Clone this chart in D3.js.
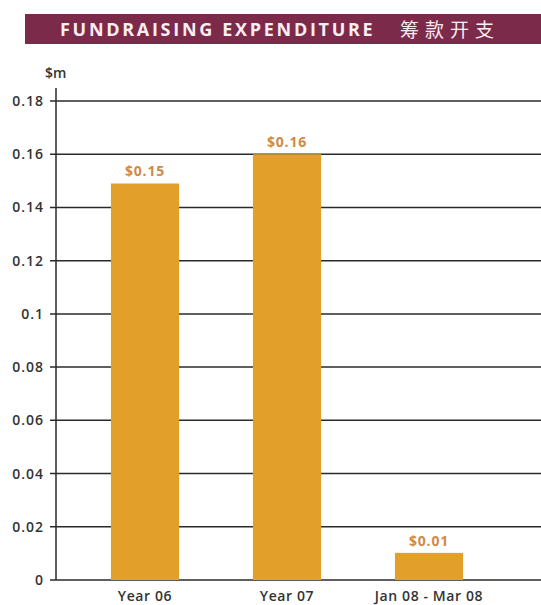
<!DOCTYPE html>
<html><head><meta charset="utf-8">
<script src="https://cdn.jsdelivr.net/npm/d3@7"></script>
<style>body{margin:0;background:#fff;}svg{display:block;font-family:"Open Sans",sans-serif;}</style>
</head><body>
<svg id="c" width="541" height="605"></svg>
<script>
const categories = ["Year 06", "Year 07", "Jan 08 - Mar 08"];
const values = [0.149, 0.16, 0.0102];
const valueLabels = ["$0.15", "$0.16", "$0.01"];
const yTicks = [0, 0.02, 0.04, 0.06, 0.08, 0.1, 0.12, 0.14, 0.16, 0.18];
const yTickLabels = ["0", "0.02", "0.04", "0.06", "0.08", "0.1", "0.12", "0.14", "0.16", "0.18"];

const svg = d3.select("#c");
// title banner
svg.append("rect").attr("x", 25).attr("y", 14).attr("width", 516).attr("height", 30).attr("fill", "#7b2a4a");
svg.append("text").attr("x", 60).attr("y", 36).attr("fill", "#fbeef2")
  .attr("font-size", 18).attr("font-weight", 700).attr("letter-spacing", 2.7)
  .text("FUNDRAISING EXPENDITURE");
svg.append("text").attr("x", 400).attr("y", 37).attr("fill", "#fbeef2")
  .attr("font-family", "Noto Sans CJK SC").attr("font-size", 19).attr("letter-spacing", 6)
  .text("筹款开支");

const x0 = 56, xEnd = 541;
const y = d3.scaleLinear().domain([0, 0.18]).range([580, 101]);
const x = d3.scaleBand().domain(categories).range([74, 500]).paddingInner(0.52).paddingOuter(0.26);

// gridlines
svg.append("g").selectAll("line").data(yTicks).join("line")
  .attr("x1", 50).attr("x2", xEnd).attr("y1", d => y(d)).attr("y2", d => y(d))
  .attr("stroke", "#2a2a2a").attr("stroke-width", 1.5);
// y axis line
svg.append("line").attr("x1", x0).attr("x2", x0).attr("y1", 88).attr("y2", 580)
  .attr("stroke", "#2a2a2a").attr("stroke-width", 1.5);
// tick labels
svg.append("g").selectAll("text").data(yTicks).join("text")
  .attr("x", 44).attr("y", d => y(d) + 5).attr("text-anchor", "end")
  .attr("font-size", 14).attr("font-weight", 600).attr("fill", "#333").attr("letter-spacing", 1)
  .text((d, i) => yTickLabels[i]);
svg.append("text").attr("x", 45).attr("y", 78).attr("font-size", 14).attr("font-weight", 600).attr("fill", "#333").text("$m");

// bars
svg.append("g").selectAll("rect").data(values).join("rect")
  .attr("x", (d, i) => x(categories[i])).attr("width", x.bandwidth())
  .attr("y", d => y(d)).attr("height", d => y(0) - y(d))
  .attr("fill", "#e2a02a");
// value labels
svg.append("g").selectAll("text").data(values).join("text")
  .attr("x", (d, i) => x(categories[i]) + x.bandwidth() / 2).attr("y", d => y(d) - 7)
  .attr("text-anchor", "middle").attr("font-size", 14).attr("font-weight", 700).attr("fill", "#d08a48").attr("letter-spacing", 0.8)
  .text((d, i) => valueLabels[i]);
// category labels
svg.append("g").selectAll("text").data(categories).join("text")
  .attr("x", d => x(d) + x.bandwidth() / 2).attr("y", 601)
  .attr("text-anchor", "middle").attr("font-size", 14).attr("font-weight", 600).attr("fill", "#333").attr("letter-spacing", 0.6)
  .text(d => d);
</script>
</body></html>
